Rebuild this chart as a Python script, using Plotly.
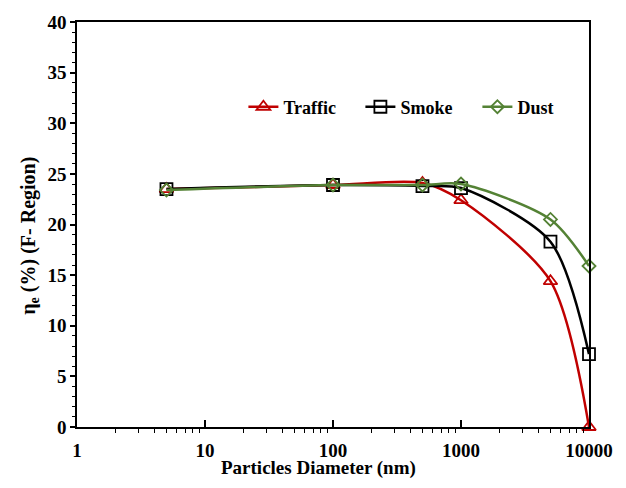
import plotly.graph_objects as go

# Particle diameters (nm) and removal efficiency per source (%)
diameter = [5, 100, 500, 1000, 5000, 10000]
traffic = [23.5, 23.9, 24.1, 22.4, 14.4, 0.0]
smoke = [23.5, 23.9, 23.8, 23.6, 18.3, 7.2]
dust = [23.4, 23.9, 23.9, 24.0, 20.5, 15.9]

series = [
    ("Traffic", traffic, "#C00000", "triangle-up-open", 12),
    ("Smoke", smoke, "#000000", "square-open", 12),
    ("Dust", dust, "#548235", "diamond-open", 10),
]

x_major = [1, 10, 100, 1000, 10000]
y_major = list(range(0, 41, 5))
# minor ticks on the log axis at 2..9 of each decade
minor_x = [m * 10 ** d for d in range(4) for m in range(2, 10)]

font_family = "Liberation Serif"

fig = go.Figure()

# transparent copy of the data on the overlay axis that carries the minor ticks
fig.add_trace(go.Scatter(x=diameter, y=traffic, xaxis="x2", yaxis="y",
                         mode="markers", marker=dict(opacity=0),
                         showlegend=False, hoverinfo="skip"))

for name, vals, color, symbol, size in series:
    fig.add_trace(go.Scatter(
        x=diameter, y=vals, name=name, mode="lines+markers",
        line=dict(color=color, width=2.5, shape="spline", smoothing=0.8),
        marker=dict(symbol=symbol, size=size, color=color,
                    line=dict(color=color, width=1.8)),
        cliponaxis=False,
    ))

fig.update_layout(
    width=626, height=488,
    margin=dict(l=77, r=37, t=16, b=61),
    paper_bgcolor="white", plot_bgcolor="white",
    font=dict(family=font_family, size=19, color="black"),
    showlegend=True,
    legend=dict(
        orientation="h", x=0.325, y=0.79, xanchor="left", yanchor="middle",
        font=dict(family=font_family, size=18, color="black", weight="bold"),
        bgcolor="rgba(0,0,0,0)", entrywidthmode="pixels", entrywidth=72,
        tracegroupgap=0,
    ),
    xaxis=dict(
        type="log", range=[0, 4],
        tickvals=x_major, ticktext=[f"<b>{v}</b>" for v in x_major],
        ticks="inside", ticklen=7, tickwidth=1.6, tickcolor="black",
        ticklabelstandoff=5,
        showline=True, linecolor="black", linewidth=1.5, mirror=True,
        showgrid=False, zeroline=False,
        tickfont=dict(family=font_family, size=19),
    ),
    # overlay axis carrying only the outward minor ticks of the log scale
    xaxis2=dict(
        type="log", range=[0, 4], overlaying="x", anchor="y", side="bottom",
        tickmode="array", tickvals=minor_x, showticklabels=False,
        ticks="outside", ticklen=5, tickwidth=1.4, tickcolor="black",
        showline=False, showgrid=False, zeroline=False,
    ),
    yaxis=dict(
        range=[0, 40],
        tickvals=y_major, ticktext=[f"<b>{v}</b>" for v in y_major],
        ticks="outside", ticklen=5, tickwidth=1.5, tickcolor="black",
        minor=dict(ticks="outside", ticklen=3, tickwidth=1.2, tickcolor="black",
                   dtick=1, showgrid=False),
        showline=True, linecolor="black", linewidth=1.5, mirror=True,
        showgrid=False, zeroline=False,
        tickfont=dict(family=font_family, size=19),
    ),
)

fig.add_annotation(
    text="<b>Particles Diameter (nm)</b>", xref="paper", yref="paper",
    x=0.471, y=-0.10, xanchor="center", yanchor="middle", showarrow=False,
    font=dict(family=font_family, size=19, color="black"),
)
fig.add_annotation(
    text="<b>η<sub>e</sub> (%) (F- Region)</b>", xref="paper", yref="paper",
    x=-0.092, y=0.472, xanchor="center", yanchor="middle", showarrow=False,
    textangle=-90, font=dict(family=font_family, size=20, color="black"),
)

fig.write_html("out.html")
